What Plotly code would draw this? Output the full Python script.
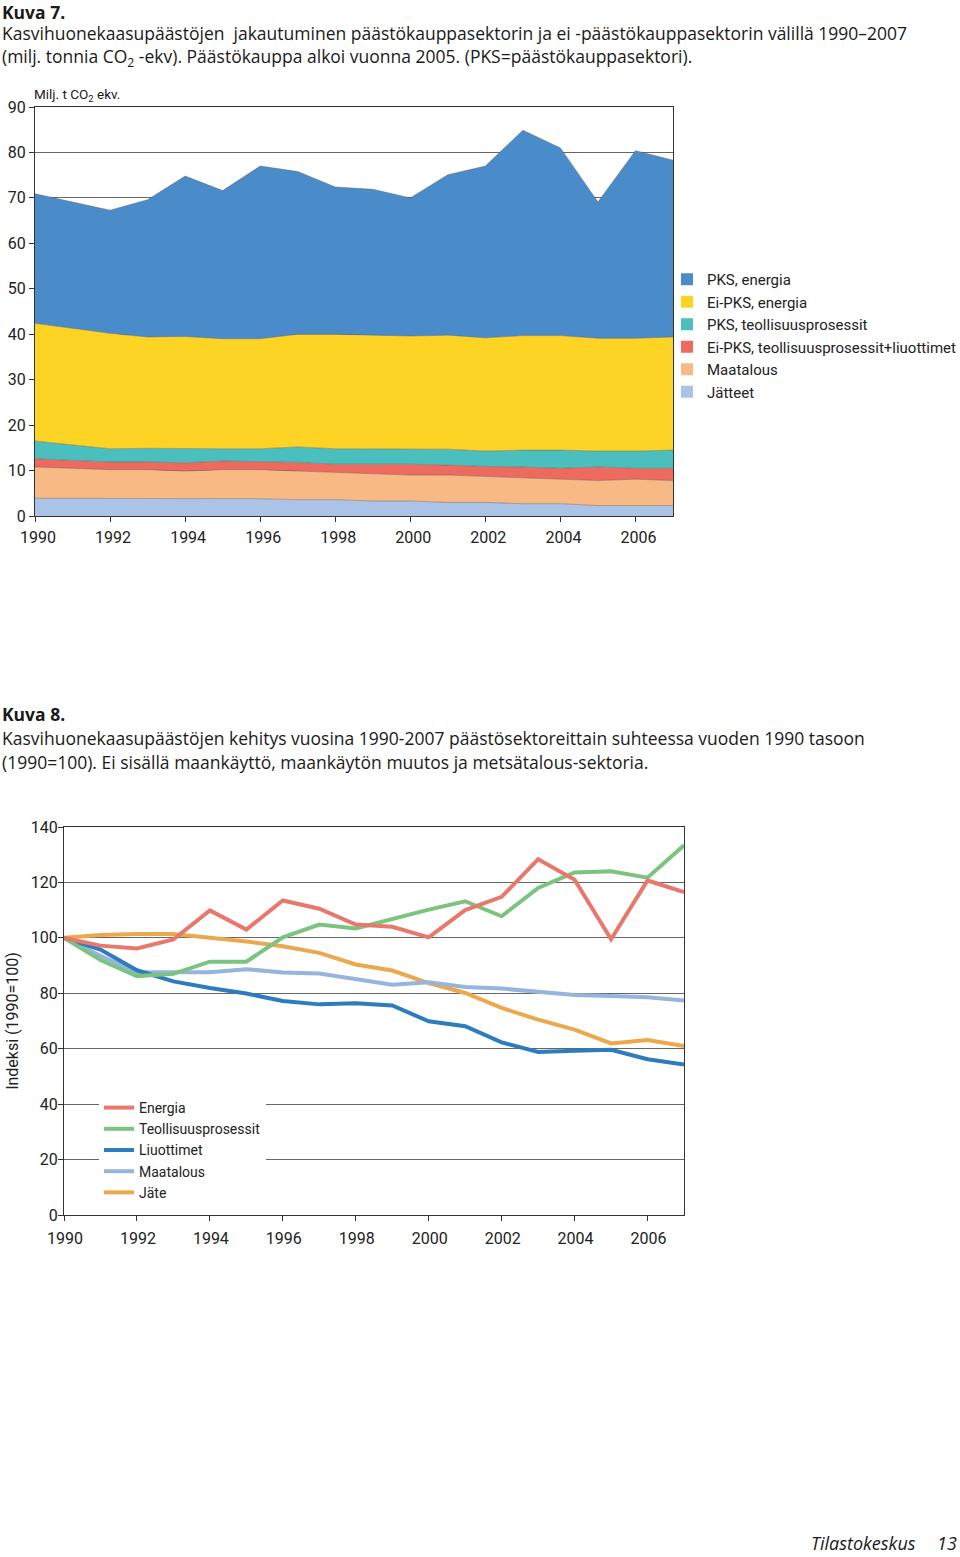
import plotly.graph_objects as go

# ---------------- DATA ----------------
years = list(range(1990, 2008))

# Kuva 7: milj. t CO2-ekv.
pks_energia = [28.5, 27.8, 27.1, 30.2, 35.3, 32.6, 38.0, 35.8, 32.4, 32.1, 30.4, 35.3, 37.8, 45.2, 41.3, 30.0, 41.3, 38.9]
eipks_energia = [25.9, 25.7, 25.4, 24.5, 24.7, 24.2, 24.2, 24.8, 25.2, 25.0, 24.8, 25.1, 24.9, 25.2, 25.2, 24.8, 24.8, 24.9]
pks_teoll = [3.9, 3.3, 2.9, 3.0, 3.1, 2.7, 2.8, 3.4, 3.4, 3.4, 3.4, 3.5, 3.4, 3.7, 4.0, 3.5, 3.8, 4.0]
eipks_teoll = [1.8, 1.8, 1.7, 1.7, 1.8, 1.9, 1.8, 1.9, 1.8, 2.1, 2.4, 2.2, 2.2, 2.4, 2.4, 3.0, 2.4, 2.7]
maatalous = [6.9, 6.6, 6.4, 6.4, 6.1, 6.4, 6.4, 6.3, 6.0, 6.0, 5.7, 6.0, 5.7, 5.7, 5.4, 5.5, 5.8, 5.5]
jatteet = [3.9, 3.9, 3.8, 3.8, 3.8, 3.8, 3.8, 3.6, 3.6, 3.3, 3.3, 3.0, 3.0, 2.7, 2.7, 2.3, 2.3, 2.3]

area_names = ["Jätteet", "Maatalous", "Ei-PKS, teollisuusprosessit+liuottimet",
              "PKS, teollisuusprosessit", "Ei-PKS, energia", "PKS, energia"]

# Kuva 8: indeksi (1990=100)
energia = [100, 97.2, 96.2, 99.4, 109.9, 103.0, 113.5, 110.5, 104.8, 104.0, 100.2, 110.0, 114.8, 128.4, 121.0, 99.5, 120.7, 116.5]
teollisuus = [100, 92.0, 86.2, 87.0, 91.4, 91.4, 100.2, 104.8, 103.4, 106.8, 110.2, 113.2, 107.8, 118.0, 123.6, 124.0, 121.7, 133.4]
liuottimet = [100, 95.8, 88.3, 84.3, 81.9, 79.9, 77.2, 76.0, 76.4, 75.6, 69.9, 68.1, 62.3, 58.8, 59.3, 59.6, 56.2, 54.3]
maatalous_ind = [100, 93.5, 87.6, 87.6, 87.6, 88.7, 87.5, 87.1, 85.2, 83.1, 84.0, 82.3, 81.7, 80.6, 79.4, 79.0, 78.6, 77.4]
jate = [100, 101.0, 101.4, 101.4, 100.0, 98.7, 97.0, 94.6, 90.4, 88.2, 83.7, 80.1, 74.7, 70.5, 66.9, 61.9, 63.1, 61.0]

line_names = ["Jäte", "Maatalous", "Liuottimet", "Teollisuusprosessit", "Energia"]

x_ticks = list(range(1990, 2007, 2))

# ---------------- STYLE ----------------
W, H = 960, 1557
COND = "Roboto, sans-serif"
TITLE_FONT = "Open Sans, Noto Sans, sans-serif"
area_colors = ["#aac3e6", "#f8b985", "#ee6a5e", "#4bbfbd", "#fed424", "#4a8cc9"]
line_colors = ["#eca84c", "#96b5dc", "#2d7cbe", "#7bc47f", "#e9786c"]
AXC = "#333333"
GRIDC = "#666666"


def px_y(p):
    return 1 - p / H


fig = go.Figure()

area_series = [jatteet, maatalous, eipks_teoll, pks_teoll, eipks_energia, pks_energia]
for name, vals, col in zip(area_names, area_series, area_colors):
    fig.add_trace(go.Scatter(
        x=years, y=vals, name=name, stackgroup="one", mode="lines",
        line=dict(width=0.8, color="rgba(90,90,90,0.55)"), fillcolor=col,
        showlegend=False, xaxis="x", yaxis="y", hoverinfo="x+y+name"))
# legend swatches (square) for the area chart
for name, col in zip(area_names, area_colors):
    fig.add_trace(go.Scatter(
        x=[None], y=[None], name=name, mode="markers",
        marker=dict(symbol="square", size=12, color=col),
        xaxis="x", yaxis="y", legend="legend", showlegend=True))

line_series = [jate, maatalous_ind, liuottimet, teollisuus, energia]
for name, vals, col in zip(line_names, line_series, line_colors):
    fig.add_trace(go.Scatter(
        x=years, y=vals, name=name, mode="lines",
        line=dict(width=4, color=col),
        xaxis="x2", yaxis="y2", legend="legend2"))

axis_common = dict(showline=True, linecolor=AXC, linewidth=1, mirror=True,
                   ticks="outside", ticklen=5, tickcolor=AXC,
                   tickfont=dict(family=COND, size=16, color="#222"), zeroline=False)

fig.update_layout(
    width=W, height=H,
    margin=dict(l=0, r=0, t=0, b=0, pad=0, autoexpand=False),
    paper_bgcolor="white", plot_bgcolor="white",
    xaxis=dict(domain=[35 / W, 673 / W], range=[1990, 2007], tickvals=x_ticks,
               showgrid=False, anchor="y", ticklabelshift=3, ticklabelstandoff=2,
               **axis_common),
    yaxis=dict(domain=[px_y(516), px_y(107)], range=[0, 90], dtick=10,
               showgrid=True, gridcolor=GRIDC, gridwidth=1, anchor="x", **axis_common),
    xaxis2=dict(domain=[64 / W, 684 / W], range=[1990, 2007], tickvals=x_ticks,
                showgrid=False, anchor="y2", ticklabelshift=1, ticklabelstandoff=4,
                **axis_common),
    yaxis2=dict(domain=[px_y(1215), px_y(827)], range=[0, 140], dtick=20,
                showgrid=True, gridcolor=GRIDC, gridwidth=1, anchor="x2",
                ticklabelstandoff=-3,
                title=dict(text="Indeksi (1990=100)", standoff=8,
                           font=dict(family=COND, size=16, color="#222")),
                **axis_common),
    legend=dict(x=667 / W, y=px_y(263), xanchor="left", yanchor="top",
                traceorder="reversed", bgcolor="rgba(0,0,0,0)", itemwidth=30,
                font=dict(family=COND, size=15, color="#222"), tracegroupgap=0),
    legend2=dict(x=99 / W, y=px_y(1092), xanchor="left", yanchor="top",
                 traceorder="reversed", bgcolor="white", itemwidth=30,
                 font=dict(family=COND, size=14, color="#222"), tracegroupgap=0),
    showlegend=True,
)

# white background continuing the legend box to the left (covers gridlines)
fig.add_shape(type="rect", xref="x2 domain", yref="y2 domain", layer="below",
              x0=(76 - 64) / 620, x1=(102 - 64) / 620,
              y0=(1215 - 1198) / 388, y1=(1215 - 1092) / 388,
              line=dict(width=0), fillcolor="white")

ann = []
def add_text(x, y, text, size=17, family=TITLE_FONT, xanchor="left", yanchor="middle", **kw):
    ann.append(dict(x=x / W, y=px_y(y), xref="paper", yref="paper", text=text,
                    showarrow=False, xanchor=xanchor, yanchor=yanchor, borderpad=0,
                    font=dict(family=family, size=size, color="#1a1a1a"), **kw))

add_text(1, 12, "<b>Kuva 7.</b>", size=17.5)
add_text(1, 33, "Kasvihuonekaasupäästöjen  jakautuminen päästökauppasektorin ja ei -päästökauppasektorin välillä 1990–2007", size=17.5)
add_text(1, 57, "(milj. tonnia CO<sub>2</sub> -ekv). Päästökauppa alkoi vuonna 2005. (PKS=päästökauppasektori).", size=17.5)
add_text(33, 95, "Milj. t CO<sub>2</sub> ekv.", size=13.5, family=COND)

add_text(1, 714, "<b>Kuva 8.</b>", size=17.5)
add_text(1, 738, "Kasvihuonekaasupäästöjen kehitys vuosina 1990-2007 päästösektoreittain suhteessa vuoden 1990 tasoon", size=17.5)
add_text(1, 762, "(1990=100). Ei sisällä maankäyttö, maankäytön muutos ja metsätalous-sektoria.", size=17.5)

add_text(917, 1543, "<i>Tilastokeskus</i>", size=18, xanchor="right")
add_text(958, 1543, "<i>13</i>", size=18, xanchor="right")

fig.update_layout(annotations=ann)

fig.write_html("out.html", config={"displayModeBar": False},
               post_script="document.body.style.margin='0';document.body.style.overflow='hidden';")
